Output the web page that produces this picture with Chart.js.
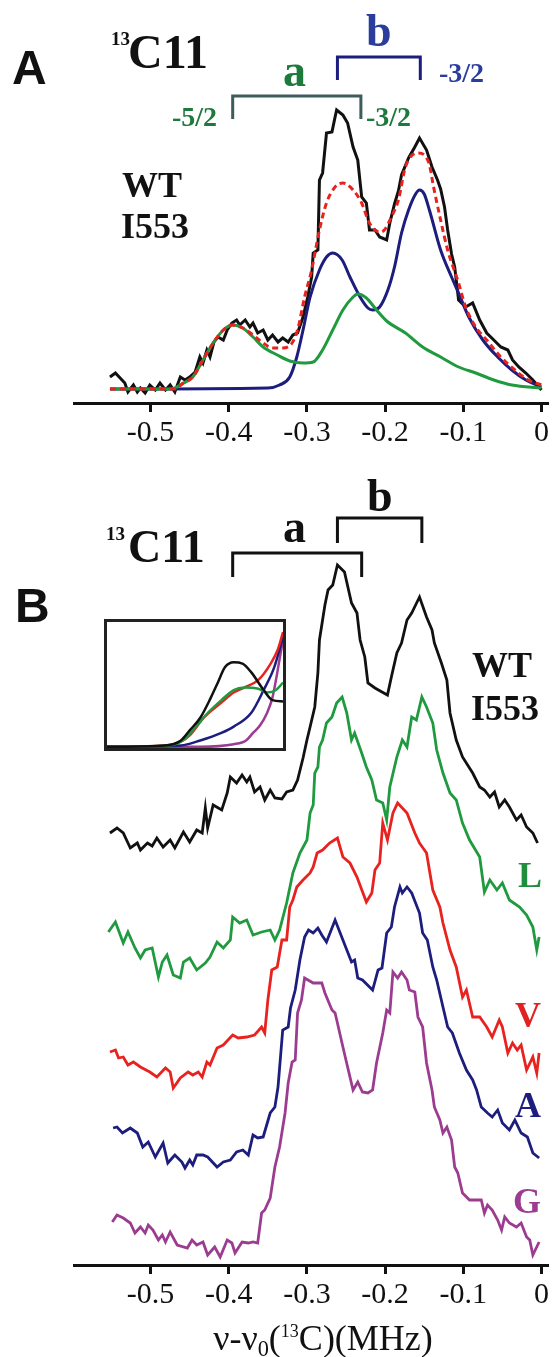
<!DOCTYPE html>
<html><head><meta charset="utf-8">
<script src="https://cdn.jsdelivr.net/npm/chart.js@4.4.1/dist/chart.umd.min.js"></script>
<style>
html,body{margin:0;padding:0;background:#fff;}
body{width:552px;height:1357px;position:relative;overflow:hidden;}
canvas{position:absolute;display:block;}
.t{position:absolute;white-space:nowrap;line-height:1;font-family:'Liberation Serif','Times New Roman',serif;font-weight:bold;color:#111;}
.s{font-family:'Liberation Sans',Arial,sans-serif;font-weight:bold;}
sub{font-size:0.62em;vertical-align:-0.28em;line-height:0;}
sup{font-size:0.5em;vertical-align:0.72em;line-height:0;}
</style></head><body>
<canvas id="cA" width="552" height="460" style="left:0;top:0"></canvas>
<canvas id="cB" width="552" height="897" style="left:0;top:460px"></canvas>
<div id="inset" style="position:absolute;left:104px;top:619px;width:182px;height:132px;border:3px solid #222;box-sizing:border-box;background:#fff;">
  <canvas id="cI" width="176" height="126" style="left:0;top:0"></canvas>
</div>

<!-- Panel A texts -->
<div class="t s" style="left:12px;top:44px;font-size:48px">A</div>
<div class="t" style="left:111px;top:29px;font-size:19px">13</div>
<div class="t" style="left:128px;top:28px;font-size:48px">C11</div>
<div class="t" style="left:283px;top:48px;font-size:46px;color:#1e7a3c">a</div>
<div class="t" style="left:366px;top:8px;font-size:46px;color:#2b3d9c">b</div>
<div class="t" style="left:172px;top:103px;font-size:28px;color:#1e7a3c">-5/2</div>
<div class="t" style="left:366px;top:103px;font-size:28px;color:#1e7a3c">-3/2</div>
<div class="t" style="left:439px;top:59px;font-size:28px;color:#2b3d9c">-3/2</div>
<div class="t" style="left:122px;top:167px;font-size:36px">WT</div>
<div class="t" style="left:121px;top:208px;font-size:36px">I553</div>

<!-- Panel B texts -->
<div class="t s" style="left:15px;top:582px;font-size:48px">B</div>
<div class="t" style="left:106px;top:524px;font-size:19px">13</div>
<div class="t" style="left:128px;top:524px;font-size:46px">C11</div>
<div class="t" style="left:283px;top:504px;font-size:46px">a</div>
<div class="t" style="left:367px;top:473px;font-size:46px">b</div>
<div class="t" style="left:472px;top:647px;font-size:36px">WT</div>
<div class="t" style="left:471px;top:690px;font-size:36px">I553</div>
<div class="t" style="left:518px;top:857px;font-size:36px;color:#1f8f3f">L</div>
<div class="t" style="left:515px;top:997px;font-size:36px;color:#e02222">V</div>
<div class="t" style="left:515px;top:1087px;font-size:36px;color:#1d1d7e">A</div>
<div class="t" style="left:513px;top:1183px;font-size:36px;color:#9c3c90">G</div>
<div class="t" style="left:323px;top:1320px;font-size:36px;font-weight:normal;transform:translateX(-50%)">ν-ν<sub>0</sub>(<sup>13</sup>C)(MHz)</div>

<script>
// ---------- DATA ----------
const xTicks = [-0.5, -0.4, -0.3, -0.2, -0.1, 0];

// Panel A: WT I553 spectrum and fit components (intensity, a.u.)
const aBlackX = [-0.552,-0.545,-0.539,-0.533,-0.529,-0.522,-0.517,-0.513,-0.507,-0.501,-0.494,-0.488,-0.481,-0.475,-0.469,-0.462,-0.456,-0.450,-0.443,-0.437,-0.433,-0.428,-0.424,-0.419,-0.414,-0.407,-0.402,-0.396,-0.390,-0.386,-0.379,-0.373,-0.369,-0.363,-0.356,-0.350,-0.344,-0.337,-0.331,-0.324,-0.318,-0.312,-0.305,-0.299,-0.294,-0.292,-0.286,-0.284,-0.280,-0.275,-0.268,-0.264,-0.262,-0.254,-0.248,-0.241,-0.235,-0.230,-0.224,-0.220,-0.213,-0.207,-0.198,-0.194,-0.188,-0.183,-0.179,-0.170,-0.162,-0.156,-0.147,-0.140,-0.133,-0.129,-0.124,-0.120,-0.115,-0.111,-0.106,-0.097,-0.088,-0.079,-0.070,-0.061,-0.052,-0.043,-0.037,-0.029,-0.020,-0.011,0.000];
const aBlackY = [12,16,11,6,-3,4,-3,1,-4,4,-1,6,-1,4,-3,12,9,12,17,32,26,39,32,47,52,49,59,66,69,64,69,62,66,56,59,49,54,47,51,47,54,56,72,92,112,136,139,209,216,256,257,272,279,274,266,242,229,192,186,159,159,152,149,166,185,198,214,231,242,251,239,222,209,200,182,159,135,122,89,82,86,69,56,49,42,39,29,22,16,9,-1];

const aSumX = [-0.552,-0.469,-0.458,-0.446,-0.433,-0.420,-0.407,-0.395,-0.382,-0.369,-0.356,-0.344,-0.331,-0.319,-0.312,-0.303,-0.294,-0.284,-0.275,-0.264,-0.254,-0.241,-0.230,-0.220,-0.207,-0.201,-0.192,-0.183,-0.174,-0.158,-0.144,-0.138,-0.129,-0.120,-0.106,-0.097,-0.084,-0.070,-0.052,-0.034,-0.017,0.000];
const aSumY = [0,0,6,12,29,46,59,64,61,54,46,41,41,46,59,92,119,159,186,202,206,199,186,166,157,159,172,189,222,236,226,202,169,139,106,82,62,49,32,19,9,4];

const aBlueX = [-0.552,-0.350,-0.335,-0.322,-0.313,-0.305,-0.296,-0.284,-0.275,-0.267,-0.255,-0.245,-0.232,-0.222,-0.216,-0.207,-0.196,-0.188,-0.179,-0.170,-0.161,-0.156,-0.150,-0.143,-0.129,-0.115,-0.106,-0.093,-0.075,-0.056,-0.038,-0.020,0.000];
const aBlueY = [0,1,4,12,32,59,92,119,132,136,129,112,92,81,79,82,100,122,156,179,195,199,195,178,139,112,96,72,49,32,19,9,2];

const aGreenX = [-0.552,-0.475,-0.458,-0.446,-0.433,-0.420,-0.407,-0.395,-0.382,-0.369,-0.356,-0.338,-0.322,-0.305,-0.292,-0.280,-0.267,-0.254,-0.241,-0.235,-0.224,-0.211,-0.198,-0.174,-0.152,-0.129,-0.106,-0.084,-0.061,-0.038,0.000];
const aGreenY = [0,0,6,12,29,46,59,64,61,52,42,34,28,26,27,39,59,79,92,95,91,79,68,56,42,32,22,16,9,4,1];

// Fit line positions (MHz) marked by brackets
const bracketA_a = [-0.395, -0.231];
const bracketA_b = [-0.261, -0.155];
const bracketB_a = [-0.395, -0.230];
const bracketB_b = [-0.261, -0.153];

// Panel B: spectra of WT and mutants (intensity, a.u.) and stacking offsets
const bLabels = ['WT I553', 'L', 'V', 'A', 'G'];
const bOffsets = [430, 320, 210, 135, 40];

const bWtX = [-0.552,-0.543,-0.535,-0.526,-0.517,-0.513,-0.504,-0.498,-0.492,-0.484,-0.475,-0.469,-0.458,-0.450,-0.441,-0.434,-0.430,-0.427,-0.420,-0.409,-0.402,-0.398,-0.390,-0.383,-0.377,-0.373,-0.367,-0.360,-0.354,-0.347,-0.341,-0.332,-0.326,-0.318,-0.312,-0.305,-0.300,-0.296,-0.290,-0.286,-0.284,-0.277,-0.273,-0.267,-0.261,-0.252,-0.243,-0.236,-0.232,-0.226,-0.222,-0.213,-0.204,-0.197,-0.192,-0.185,-0.179,-0.172,-0.166,-0.156,-0.147,-0.140,-0.137,-0.128,-0.121,-0.117,-0.109,-0.101,-0.088,-0.079,-0.073,-0.066,-0.060,-0.054,-0.047,-0.041,-0.032,-0.026,-0.019,-0.011,-0.005];
const bWtY = [2,7,2,-13,-8,-15,-8,-11,-3,-12,-5,-13,3,-7,5,2,27,7,30,25,42,58,52,60,53,58,43,48,35,45,37,36,43,45,55,77,95,108,128,162,195,230,245,250,270,263,232,222,195,178,152,147,143,140,158,182,192,215,222,238,218,205,192,172,155,122,95,78,62,48,45,38,43,28,35,28,15,20,8,2,-8];

const bLX = [-0.554,-0.545,-0.535,-0.529,-0.520,-0.513,-0.507,-0.498,-0.490,-0.485,-0.479,-0.471,-0.462,-0.458,-0.450,-0.441,-0.430,-0.424,-0.415,-0.407,-0.398,-0.395,-0.386,-0.377,-0.369,-0.358,-0.347,-0.341,-0.335,-0.326,-0.318,-0.309,-0.300,-0.296,-0.292,-0.290,-0.286,-0.284,-0.280,-0.275,-0.268,-0.262,-0.255,-0.249,-0.243,-0.239,-0.230,-0.224,-0.217,-0.211,-0.203,-0.198,-0.194,-0.185,-0.178,-0.172,-0.166,-0.160,-0.153,-0.147,-0.139,-0.134,-0.126,-0.117,-0.109,-0.101,-0.092,-0.079,-0.073,-0.066,-0.057,-0.050,-0.041,-0.028,-0.019,-0.011,-0.006,-0.003];
const bLY = [13,23,2,13,-3,-13,-5,-3,-32,-17,-10,-30,-33,-17,-13,-25,-18,-12,3,-3,5,28,22,25,10,13,15,5,15,42,72,92,105,132,140,172,178,198,205,222,228,242,248,232,205,212,192,178,165,145,142,125,158,188,205,198,228,225,248,238,222,195,172,152,145,122,105,88,53,65,55,62,45,38,30,18,-5,8];

const bVX = [-0.552,-0.545,-0.541,-0.535,-0.529,-0.522,-0.513,-0.501,-0.492,-0.481,-0.475,-0.471,-0.462,-0.452,-0.446,-0.439,-0.434,-0.428,-0.424,-0.415,-0.407,-0.395,-0.388,-0.377,-0.367,-0.358,-0.354,-0.350,-0.345,-0.338,-0.332,-0.326,-0.322,-0.318,-0.313,-0.305,-0.296,-0.292,-0.287,-0.280,-0.271,-0.261,-0.254,-0.245,-0.236,-0.224,-0.217,-0.213,-0.207,-0.203,-0.197,-0.190,-0.184,-0.172,-0.162,-0.156,-0.147,-0.139,-0.130,-0.126,-0.117,-0.109,-0.101,-0.096,-0.088,-0.079,-0.070,-0.063,-0.054,-0.050,-0.043,-0.037,-0.031,-0.026,-0.019,-0.011,-0.006,-0.003];
const bVY = [3,5,-3,-2,-10,-7,-12,-17,-22,-13,-17,-33,-23,-17,-20,-17,-22,-7,-10,7,10,20,17,18,20,28,22,55,85,88,115,115,148,155,168,175,182,188,202,205,212,217,198,192,178,153,162,185,192,232,215,242,252,242,222,212,202,165,148,132,105,88,58,65,38,38,28,18,35,28,2,12,5,10,-15,-2,-18,2];

const bAX = [-0.548,-0.543,-0.536,-0.526,-0.517,-0.510,-0.503,-0.494,-0.484,-0.478,-0.469,-0.460,-0.456,-0.450,-0.446,-0.441,-0.433,-0.427,-0.415,-0.407,-0.398,-0.390,-0.382,-0.375,-0.369,-0.363,-0.356,-0.347,-0.341,-0.337,-0.331,-0.324,-0.321,-0.315,-0.309,-0.303,-0.298,-0.292,-0.286,-0.281,-0.275,-0.264,-0.254,-0.243,-0.239,-0.235,-0.229,-0.216,-0.209,-0.204,-0.198,-0.192,-0.188,-0.181,-0.178,-0.172,-0.166,-0.156,-0.152,-0.146,-0.139,-0.134,-0.126,-0.120,-0.114,-0.105,-0.096,-0.088,-0.083,-0.077,-0.069,-0.063,-0.056,-0.050,-0.041,-0.034,-0.026,-0.018,-0.011,-0.003];
const bAY = [2,3,-3,2,-3,-17,-12,-27,-13,-33,-25,-32,-38,-30,-35,-25,-25,-27,-37,-32,-30,-22,-20,-25,-5,-8,-7,17,23,43,100,103,122,140,170,193,200,197,202,195,188,210,190,168,170,152,150,140,160,162,197,203,223,243,237,243,237,217,197,190,163,150,123,103,97,77,60,50,40,23,17,13,20,7,0,10,-3,-7,-23,-28];

const bGX = [-0.549,-0.543,-0.535,-0.526,-0.520,-0.513,-0.507,-0.503,-0.497,-0.490,-0.485,-0.481,-0.475,-0.466,-0.453,-0.447,-0.441,-0.433,-0.427,-0.418,-0.411,-0.402,-0.396,-0.392,-0.383,-0.375,-0.369,-0.363,-0.358,-0.354,-0.347,-0.341,-0.335,-0.328,-0.324,-0.319,-0.315,-0.312,-0.307,-0.303,-0.292,-0.281,-0.277,-0.268,-0.264,-0.261,-0.254,-0.248,-0.241,-0.235,-0.229,-0.222,-0.216,-0.211,-0.203,-0.198,-0.194,-0.190,-0.184,-0.179,-0.172,-0.169,-0.162,-0.158,-0.152,-0.147,-0.140,-0.137,-0.130,-0.126,-0.121,-0.115,-0.111,-0.107,-0.101,-0.092,-0.077,-0.073,-0.069,-0.063,-0.056,-0.051,-0.047,-0.041,-0.032,-0.026,-0.019,-0.015,-0.011,-0.003];
const bGY = [3,10,7,2,-8,-2,-8,0,-5,-15,-10,-17,-7,-20,-23,-15,-20,-17,-30,-22,-32,-15,-18,-28,-17,-18,-17,-18,12,15,27,58,78,112,142,163,165,212,225,247,242,242,232,215,212,202,178,158,135,143,133,132,135,162,192,215,212,253,247,253,245,235,233,208,198,162,135,118,105,92,98,85,58,52,32,25,25,12,20,15,5,-5,8,2,-2,2,-12,-15,-30,-17];

// Inset curves (normalised units 0-100)
const insBlackX = [0,33,42,47,53,59,63,67,72,77,82,89,94,100];
const insBlackY = [1,2,6,14,24,40,52,64,68,67,60,46,38,37];
const insGreenX = [0,35,43,50,56,65,72,78,86,91,96,100];
const insGreenY = [1,2,6,16,26,38,46,48,47,44,46,52];
const insRedX = [0,33,42,47,55,65,72,78,86,93,97,100];
const insRedY = [1,2,5,10,24,36,44,48,54,67,78,92];
const insBlueX = [0,42,53,65,72,82,89,95,100];
const insBlueY = [1,2,6,12,17,28,46,64,88];
const insPurpleX = [0,53,72,79,83,87,91,94,96,98,100];
const insPurpleY = [1,1,3,6,12,18,28,40,54,70,86];

// ---------- STYLE ----------
const C = {black:'#111111', navy:'#1d1d7e', green:'#1f9a3e', red:'#e8231f', purple:'#9c3c90', slate:'#3d5c5c'};
const SERIF = "'Liberation Serif','Times New Roman',serif";

function pts(xs, ys, off) {
  off = off || 0;
  const n = Math.min(xs.length, ys.length), out = [];
  for (let i = 0; i < n; i++) out.push({x: xs[i], y: ys[i] + off});
  return out;
}

function xAxis(h) {
  return {
    type: 'linear', min: -0.598, max: 0.009,
    afterBuildTicks: s => { s.ticks = xTicks.map(v => ({value: v})); },
    afterFit: s => { s.height = h; },
    grid: {display: true, drawOnChartArea: false, drawTicks: true, tickLength: 9, tickWidth: 3, tickColor: '#111', color: '#111'},
    border: {display: true, width: 3, color: '#111'},
    ticks: {color: '#111', padding: 3, maxRotation: 0, autoSkip: false,
      font: {family: SERIF, size: 30},
      callback: v => (v === 0 ? '0' : Number(v).toFixed(1))}
  };
}

const bracketPlugin = {
  id: 'brackets',
  afterDraw(chart, args, opts) {
    const ctx = chart.ctx, xs = chart.scales.x;
    (opts.items || []).forEach(b => {
      const x1 = xs.getPixelForValue(b.pos[0]), x2 = xs.getPixelForValue(b.pos[1]);
      ctx.save();
      ctx.strokeStyle = b.color; ctx.lineWidth = 3; ctx.lineJoin = 'miter'; ctx.lineCap = 'butt';
      ctx.beginPath();
      ctx.moveTo(x1, b.bottom); ctx.lineTo(x1, b.top); ctx.lineTo(x2, b.top); ctx.lineTo(x2, b.bottom);
      ctx.stroke(); ctx.restore();
    });
  }
};

const lineDs = (label, data, color, w, extra) => Object.assign({
  label, data, borderColor: color, backgroundColor: color, borderWidth: w,
  pointRadius: 0, fill: false, tension: 0
}, extra || {});

const baseOpts = {responsive: false, animation: false, events: [],
  plugins: {legend: {display: false}, tooltip: {enabled: false}}};

// ---------- PANEL A ----------
new Chart(document.getElementById('cA'), {
  type: 'line',
  data: {datasets: [
    lineDs('fit sum', pts(aSumX, aSumY), C.red, 3, {borderDash: [6, 4], cubicInterpolationMode: 'monotone'}),
    lineDs('a', pts(aGreenX, aGreenY), C.green, 3, {cubicInterpolationMode: 'monotone'}),
    lineDs('b', pts(aBlueX, aBlueY), C.navy, 3, {cubicInterpolationMode: 'monotone'}),
    lineDs('WT I553', pts(aBlackX, aBlackY), C.black, 3)
  ]},
  options: Object.assign({}, baseOpts, {
    layout: {padding: {left: 74, right: 3, top: 0, bottom: 0}},
    scales: {x: xAxis(57), y: {display: false, min: -14, max: 389}},
    plugins: Object.assign({}, baseOpts.plugins, {brackets: {items: [
      {pos: bracketA_a, top: 96, bottom: 119, color: C.slate},
      {pos: bracketA_b, top: 57, bottom: 80, color: C.navy}
    ]}})
  }),
  plugins: [bracketPlugin]
});

// ---------- PANEL B ----------
const bSeries = [[bWtX, bWtY, C.black], [bLX, bLY, C.green], [bVX, bVY, C.red], [bAX, bAY, C.navy], [bGX, bGY, C.purple]];
new Chart(document.getElementById('cB'), {
  type: 'line',
  data: {datasets: bSeries.map((s, i) => lineDs(bLabels[i], pts(s[0], s[1], bOffsets[i]), s[2], 2.8))},
  options: Object.assign({}, baseOpts, {
    layout: {padding: {left: 74, right: 3, top: 0, bottom: 0}},
    scales: {x: xAxis(92), y: {display: false, min: 0, max: 805}},
    plugins: Object.assign({}, baseOpts.plugins, {brackets: {items: [
      {pos: bracketB_a, top: 93, bottom: 117, color: C.black},
      {pos: bracketB_b, top: 58, bottom: 83, color: C.black}
    ]}})
  }),
  plugins: [bracketPlugin]
});

// ---------- INSET ----------
new Chart(document.getElementById('cI'), {
  type: 'line',
  data: {datasets: [
    lineDs('WT', pts(insBlackX, insBlackY), C.black, 2.5, {cubicInterpolationMode: 'monotone'}),
    lineDs('L', pts(insGreenX, insGreenY), C.green, 2.5, {cubicInterpolationMode: 'monotone'}),
    lineDs('V', pts(insRedX, insRedY), C.red, 2.5, {cubicInterpolationMode: 'monotone'}),
    lineDs('A', pts(insBlueX, insBlueY), C.navy, 2.5, {cubicInterpolationMode: 'monotone'}),
    lineDs('G', pts(insPurpleX, insPurpleY), C.purple, 2.5, {cubicInterpolationMode: 'monotone'})
  ]},
  options: Object.assign({}, baseOpts, {
    layout: {padding: 0},
    scales: {x: {type: 'linear', display: false, min: 0, max: 100}, y: {display: false, min: 0, max: 100}}
  })
});
</script>
</body></html>
